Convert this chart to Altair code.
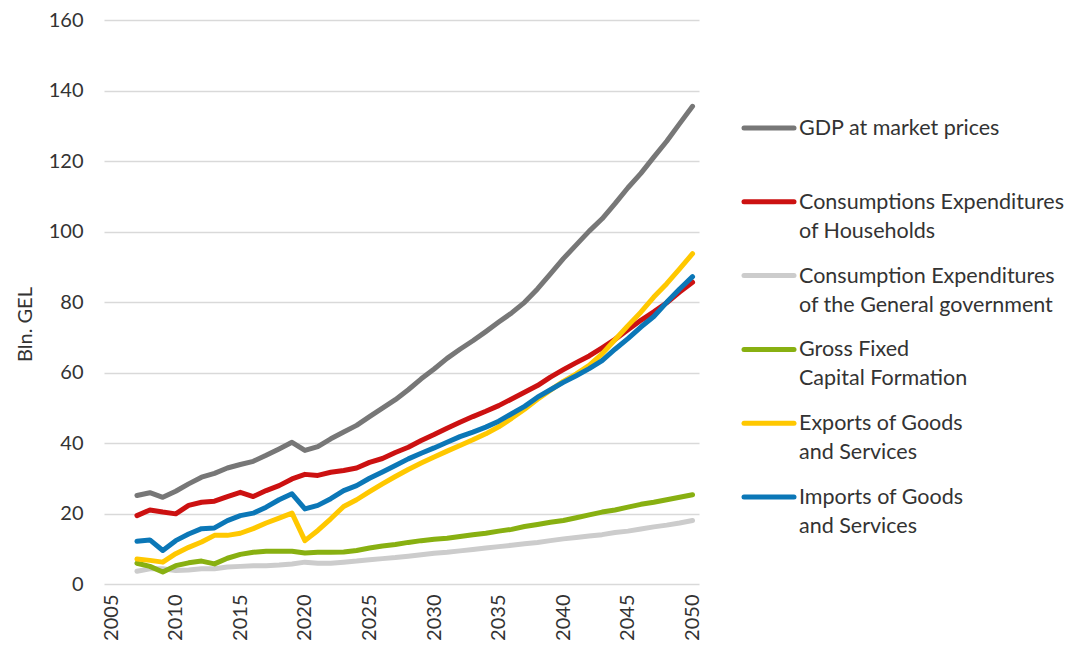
import altair as alt
import pandas as pd

years = list(range(2007, 2051))

gdp = [25.1, 25.9, 24.6, 26.3, 28.4, 30.3, 31.4, 32.9, 33.9, 34.8,
       36.5, 38.3, 40.2, 37.9, 39.0, 41.2, 43.1, 45.0, 47.5, 49.9,
       52.3, 55.1, 58.2, 61.0, 64.0, 66.6, 69.0, 71.6, 74.3, 76.9,
       79.9, 83.7, 88.0, 92.3, 96.2, 100.1, 103.6, 107.9, 112.4, 116.5,
       121.1, 125.6, 130.6, 135.5]
households = [19.4, 21.0, 20.4, 19.9, 22.3, 23.2, 23.5, 24.8, 26.0, 24.8,
              26.5, 27.9, 29.8, 31.1, 30.8, 31.7, 32.2, 32.9, 34.5, 35.6,
              37.3, 38.8, 40.7, 42.4, 44.2, 45.9, 47.5, 49.0, 50.6, 52.5,
              54.4, 56.3, 58.7, 60.8, 62.8, 64.7, 67.0, 69.4, 72.1, 74.8,
              77.2, 79.8, 82.8, 85.6]
government = [3.6, 4.3, 4.3, 3.8, 4.0, 4.3, 4.3, 4.8, 5.0, 5.2,
              5.2, 5.4, 5.7, 6.2, 5.9, 5.9, 6.2, 6.5, 6.9, 7.2,
              7.5, 7.9, 8.3, 8.7, 9.0, 9.4, 9.8, 10.2, 10.6, 11.0,
              11.4, 11.8, 12.3, 12.8, 13.2, 13.6, 14.0, 14.6, 15.0, 15.6,
              16.2, 16.7, 17.3, 18.0]
gfcf = [5.9, 5.0, 3.4, 5.2, 6.0, 6.5, 5.7, 7.3, 8.4, 9.0,
        9.3, 9.3, 9.3, 8.8, 9.0, 9.0, 9.1, 9.5, 10.2, 10.8,
        11.2, 11.8, 12.3, 12.7, 13.0, 13.5, 14.0, 14.4, 15.0, 15.5,
        16.3, 16.9, 17.5, 18.0, 18.8, 19.6, 20.4, 21.0, 21.8, 22.6,
        23.2, 23.9, 24.6, 25.3]
exports = [7.1, 6.7, 6.2, 8.6, 10.4, 11.9, 13.8, 13.8, 14.4, 15.7,
           17.3, 18.7, 20.1, 12.3, 15.2, 18.5, 22.0, 23.9, 26.2, 28.4,
           30.5, 32.5, 34.3, 36.0, 37.7, 39.3, 40.9, 42.6, 44.6, 47.0,
           49.6, 52.4, 55.0, 57.5, 59.6, 62.0, 65.3, 69.3, 73.3, 77.1,
           81.4, 85.2, 89.4, 93.7]
imports = [12.1, 12.5, 9.5, 12.3, 14.2, 15.7, 15.9, 18.0, 19.4, 20.1,
           21.8, 23.9, 25.6, 21.3, 22.3, 24.2, 26.5, 27.9, 30.0, 31.8,
           33.6, 35.5, 37.1, 38.6, 40.2, 41.8, 43.1, 44.5, 46.2, 48.3,
           50.4, 53.0, 55.1, 57.2, 59.1, 61.1, 63.4, 66.6, 69.6, 72.9,
           75.9, 79.9, 83.7, 87.2]

series_names = [
    "GDP at market prices",
    "Consumptions Expenditures of Households",
    "Consumption Expenditures of the General government",
    "Gross Fixed Capital Formation",
    "Exports of Goods and Services",
    "Imports of Goods and Services",
]
legend_labels = [
    "GDP at market prices",
    "Consumptions Expenditures\nof Households",
    "Consumption Expenditures\nof the General government",
    "Gross Fixed\nCapital Formation",
    "Exports of Goods\nand Services",
    "Imports of Goods\nand Services",
]
colors = ["#777777", "#cc1111", "#cccccc", "#88b011", "#ffc800", "#0b77b7"]
x_ticks = list(range(2005, 2051, 5))
y_ticks = list(range(0, 161, 20))

rows = []
for name, vals in zip(series_names, [gdp, households, government, gfcf, exports, imports]):
    for yr, v in zip(years, vals):
        rows.append({"year": yr, "value": v, "series": name})
df = pd.DataFrame(rows)

FONT = "Lato"
TXT = "#333333"
color_scale = alt.Scale(domain=series_names, range=colors)

lines = alt.Chart(df).mark_line(strokeWidth=5, strokeCap="round", strokeJoin="round").encode(
    x=alt.X("year:Q",
            scale=alt.Scale(domain=[2004.45, 2050.5], nice=False, zero=False),
            axis=alt.Axis(values=x_ticks, format="d", labelAngle=270, grid=False, domain=False,
                          ticks=False, title=None, labelPadding=10, labelFont=FONT,
                          labelFontSize=20, labelColor=TXT)),
    y=alt.Y("value:Q",
            scale=alt.Scale(domain=[0, 160], nice=False),
            axis=alt.Axis(values=y_ticks, title="Bln. GEL", domain=False, ticks=False,
                          gridColor="#d9d9d9", gridWidth=1.5, labelPadding=21,
                          labelFont=FONT, labelFontSize=20, labelColor=TXT,
                          titleFont=FONT, titleFontSize=20, titleFontWeight="normal",
                          titleColor=TXT, titlePadding=13, titleY=304)),
    color=alt.Color("series:N", scale=color_scale, legend=None),
    detail="series:N",
).properties(width=595, height=564)

leg_df = pd.DataFrame({"series": series_names, "label": legend_labels})
yenc = alt.Y("series:N", sort=series_names,
             scale=alt.Scale(type="point", range=[108, 477], padding=0), axis=None)
leg_rule = alt.Chart(leg_df).mark_rule(strokeWidth=5, strokeCap="round").encode(
    y=yenc, x=alt.value(3), x2=alt.value(53),
    color=alt.Color("series:N", scale=color_scale, legend=None),
)
leg_text = alt.Chart(leg_df).mark_text(
    align="left", baseline="alphabetic", dy=7, lineBreak="\n", lineHeight=29,
    fontSize=21.5, font=FONT, color=TXT,
).encode(y=yenc, x=alt.value(58), text="label:N")
legend = alt.layer(leg_rule, leg_text).properties(width=320, height=564)

chart = alt.hconcat(lines, legend, spacing=38).properties(
    padding={"left": 15, "top": 10, "right": 0, "bottom": 0}
).configure_view(stroke=None)

chart.save("out.html", embed_options={"renderer": "svg", "actions": False})
